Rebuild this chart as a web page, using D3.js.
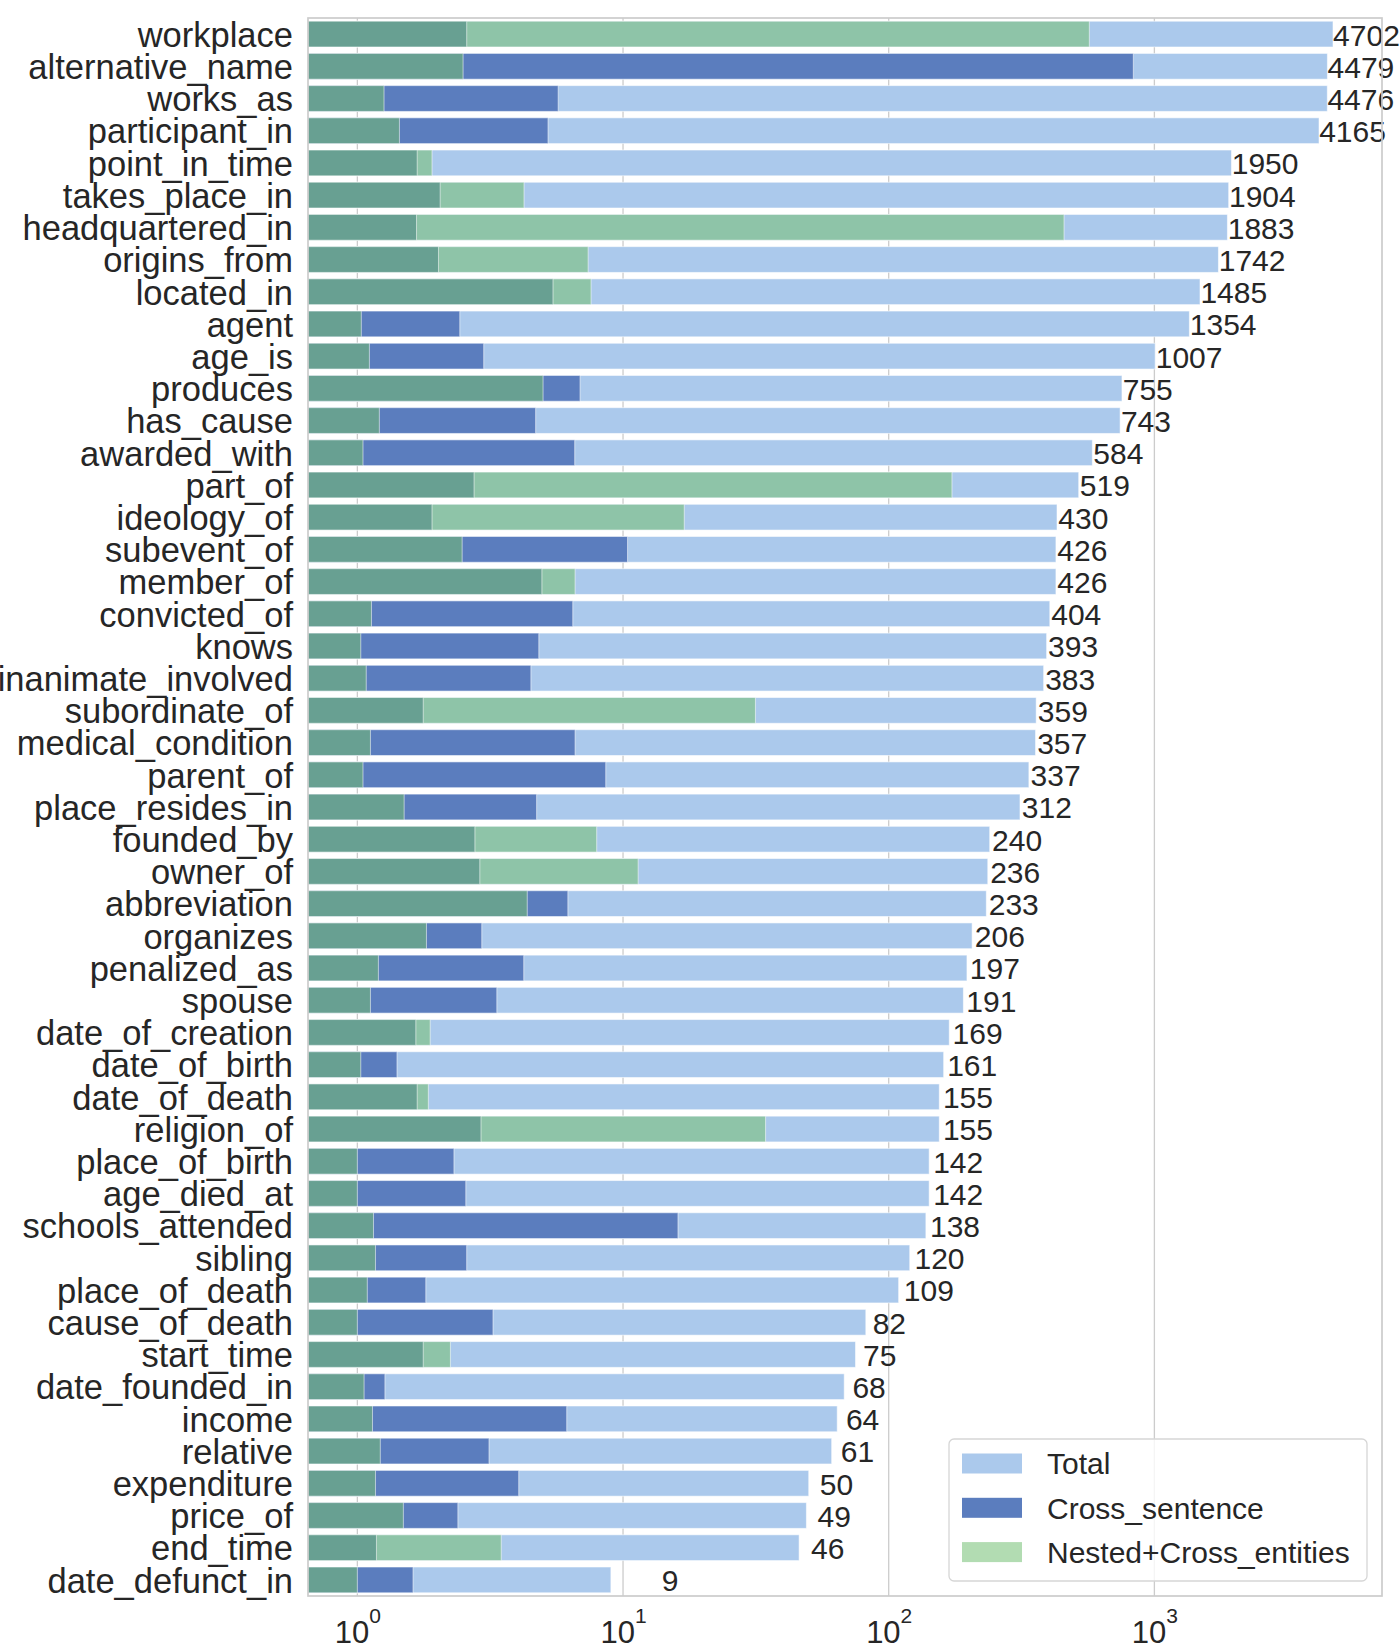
<!DOCTYPE html>
<html>
<head>
<meta charset="utf-8">
<script src="https://cdn.jsdelivr.net/npm/d3@7"></script>
<style>
  html, body { margin: 0; padding: 0; background: #ffffff; }
  svg { display: block; }
  text { font-family: "Liberation Sans", Arial, Helvetica, sans-serif; fill: #262626; }
</style>
</head>
<body>
<svg id="chart" width="1400" height="1650"></svg>
<script>
const categories = ["workplace","alternative_name","works_as","participant_in","point_in_time","takes_place_in","headquartered_in","origins_from","located_in","agent","age_is","produces","has_cause","awarded_with","part_of","ideology_of","subevent_of","member_of","convicted_of","knows","inanimate_involved","subordinate_of","medical_condition","parent_of","place_resides_in","founded_by","owner_of","abbreviation","organizes","penalized_as","spouse","date_of_creation","date_of_birth","date_of_death","religion_of","place_of_birth","age_died_at","schools_attended","sibling","place_of_death","cause_of_death","start_time","date_founded_in","income","relative","expenditure","price_of","end_time","date_defunct_in"];

const totalValues = [4702,4479,4476,4165,1950,1904,1883,1742,1485,1354,1007,755,743,584,519,430,426,426,404,393,383,359,357,337,312,240,236,233,206,197,191,169,161,155,155,142,142,138,120,109,82,75,68,64,61,50,49,46,9];

const crossSentenceValues = [null,833,5.70,5.22,null,null,null,null,null,2.43,2.99,6.89,4.69,6.58,null,null,10.4,null,6.47,4.82,4.50,null,6.60,8.61,4.73,null,null,6.20,2.94,4.23,3.35,null,1.41,null,null,2.31,2.56,16.1,2.58,1.81,3.24,null,1.27,6.14,3.13,4.05,2.39,null,1.62];

const nestedCrossValues = [569,null,null,null,1.91,4.24,457,7.39,7.58,null,null,null,null,null,173,17.0,null,6.60,null,null,null,31.5,null,null,null,7.96,11.4,null,null,null,null,1.88,null,1.85,34.4,null,null,null,null,null,null,2.24,null,null,null,null,null,3.48,null];

const innerValues = [2.58,2.50,1.26,1.44,1.68,2.05,1.67,2.02,5.45,1.035,1.11,5.00,1.21,1.05,2.75,1.91,2.48,4.95,1.13,1.03,1.08,1.77,1.12,1.05,1.50,2.77,2.89,4.36,1.82,1.20,1.12,1.66,1.03,1.68,2.92,1.0,1.0,1.15,1.17,1.09,1.0,1.77,1.06,1.14,1.22,1.17,1.49,1.18,1.0];

const xTickValues = [1, 10, 100, 1000];
const xTickExponents = ["0", "1", "2", "3"];

const legendLabels = ["Total", "Cross_sentence", "Nested+Cross_entities"];

const colors = {
  total: "#abc9ec",
  cross: "#5b7dbe",
  nested: "#8ec4a8",
  inner: "#68a092",
  legendNested: "#b2dcb2"
};

const svg = d3.select("#chart");
const L = 308, R = 1382, T = 18, B = 1596;

const x = d3.scaleLog().domain([0.652, 7190]).range([L, R]);
const y = d3.scaleBand().domain(categories).range([T, B]).paddingInner(0.2).paddingOuter(0.1);

// grid
svg.append("g").selectAll("line").data(xTickValues).join("line")
  .attr("x1", d => x(d)).attr("x2", d => x(d))
  .attr("y1", T).attr("y2", B)
  .attr("stroke", "#cccccc").attr("stroke-width", 1.3);

const rows = categories.map((c, i) => ({
  cat: c, total: totalValues[i], cross: crossSentenceValues[i], nested: nestedCrossValues[i], inner: innerValues[i]
}));

const x0 = x.range()[0];
function barLayer(cls, key, color) {
  svg.append("g").attr("class", cls).selectAll("rect")
    .data(rows.filter(r => r[key] != null)).join("rect")
    .attr("x", x0)
    .attr("y", d => y(d.cat))
    .attr("width", d => x(d[key]) - x0)
    .attr("height", y.bandwidth())
    .attr("fill", color)
    .attr("stroke", "#ffffff").attr("stroke-opacity", 0.55).attr("stroke-width", 1);
}
barLayer("total", "total", colors.total);
barLayer("cross", "cross", colors.cross);
barLayer("nested", "nested", colors.nested);
barLayer("inner", "inner", colors.inner);

// value labels
svg.append("g").selectAll("text").data(rows).join("text")
  .attr("x", d => x(d.total + 5))
  .attr("y", d => y(d.cat) + y.bandwidth() / 2)
  .attr("dy", "0.38em")
  .attr("font-size", 30)
  .text(d => d.total);

// y axis
const yAxis = svg.append("g").attr("transform", `translate(${L},0)`)
  .call(d3.axisLeft(y).tickSize(0).tickPadding(15));
yAxis.select(".domain").remove();
yAxis.selectAll("text")
  .attr("font-size", 34.5)
  .attr("dy", "0.37em")
  .attr("font-family", "'Liberation Sans', Arial, sans-serif")
  .attr("fill", "#262626");

// x axis
const xAxis = svg.append("g").attr("transform", `translate(0,${B})`)
  .call(d3.axisBottom(x).tickValues(xTickValues).tickSize(0).tickFormat(""));
xAxis.select(".domain").remove();
xAxis.selectAll(".tick").each(function(d, i) {
  const t = d3.select(this).append("text")
    .attr("y", 47).attr("text-anchor", "middle")
    .attr("font-size", 31).attr("fill", "#262626");
  t.append("tspan").text("10");
  t.append("tspan").attr("font-size", 21).attr("dy", -20).text(xTickExponents[i]);
});

// frame
svg.append("rect").attr("x", L).attr("y", T).attr("width", R - L).attr("height", B - T)
  .attr("fill", "none").attr("stroke", "#cccccc").attr("stroke-width", 1.7);

// legend
const lg = svg.append("g").attr("transform", "translate(949,1439)");
lg.append("rect").attr("width", 418).attr("height", 142).attr("rx", 5)
  .attr("fill", "#ffffff").attr("fill-opacity", 0.8)
  .attr("stroke", "#d6d6d6").attr("stroke-width", 1.3);
const legendColors = [colors.total, colors.cross, colors.legendNested];
legendLabels.forEach((lab, i) => {
  const cy = 24.5 + i * 44.3;
  lg.append("rect").attr("x", 13).attr("y", cy - 10).attr("width", 60).attr("height", 20)
    .attr("fill", legendColors[i]);
  lg.append("text").attr("x", 98).attr("y", cy).attr("dy", "0.36em")
    .attr("font-size", 30).text(lab);
});
</script>
</body>
</html>
